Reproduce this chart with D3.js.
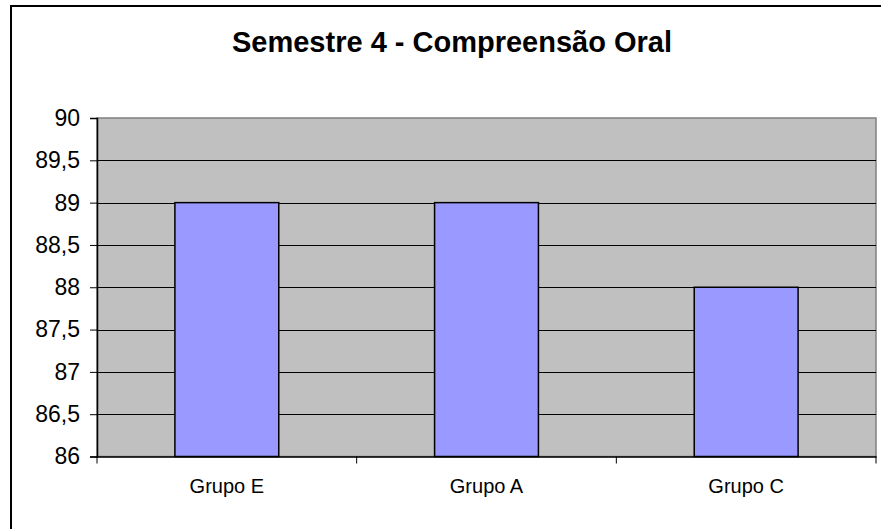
<!DOCTYPE html>
<html>
<head>
<meta charset="utf-8">
<script src="https://cdn.jsdelivr.net/npm/d3@7"></script>
<style>
  html, body { margin: 0; padding: 0; background: #fff; }
  svg { display: block; }
</style>
</head>
<body>
<svg id="chart" width="881" height="529"></svg>
<script>
const title = "Semestre 4 - Compreensão Oral";
const categories = ["Grupo E", "Grupo A", "Grupo C"];
const values = [89, 89, 88];
const yTicks = [86, 86.5, 87, 87.5, 88, 88.5, 89, 89.5, 90];
const yDomain = [86, 90];

const svg = d3.select("#chart");
const plot = { left: 97, top: 118, right: 876, bottom: 456.5 };

// outer frame (extends past the picture on right and bottom)
svg.append("rect")
  .attr("x", 11).attr("y", 6)
  .attr("width", 900).attr("height", 600)
  .attr("fill", "#fff").attr("stroke", "#000").attr("stroke-width", 2);

const x = d3.scaleBand().domain(categories).range([plot.left, plot.right]).paddingInner(0).paddingOuter(0);
const y = d3.scaleLinear().domain(yDomain).range([plot.bottom, plot.top]);

// plot background
svg.append("rect")
  .attr("x", plot.left).attr("y", plot.top)
  .attr("width", plot.right - plot.left).attr("height", plot.bottom - plot.top)
  .attr("fill", "#C0C0C0").attr("stroke", "#808080").attr("stroke-width", 1.5);

// gridlines
svg.append("g").selectAll("line").data(yTicks.filter(d => d !== yDomain[0] && d !== yDomain[1]))
  .join("line")
  .attr("x1", plot.left).attr("x2", plot.right)
  .attr("y1", d => Math.round(y(d)) + 0.5).attr("y2", d => Math.round(y(d)) + 0.5)
  .attr("stroke", "#000").attr("stroke-width", 1);

// bars
const barW = x.bandwidth() * 0.4;
svg.append("g").selectAll("rect").data(values)
  .join("rect")
  .attr("x", (d, i) => x(categories[i]) + (x.bandwidth() - barW) / 2)
  .attr("y", d => y(d))
  .attr("width", barW)
  .attr("height", d => y(yDomain[0]) - y(d))
  .attr("fill", "#9999FF").attr("stroke", "#000").attr("stroke-width", 1.5);

// y axis
const yAxis = svg.append("g")
  .attr("transform", `translate(${plot.left},0)`)
  .call(d3.axisLeft(y).tickValues(yTicks).tickSize(7).tickPadding(10)
    .tickFormat(d => String(d).replace(".", ",")));
yAxis.select(".domain").attr("stroke", "#000").attr("stroke-width", 1.5);
yAxis.selectAll(".tick line").attr("stroke", "#000");
yAxis.selectAll(".tick text")
  .attr("fill", "#000")
  .style("font-family", "Arial, 'Liberation Sans', sans-serif")
  .style("font-size", "23px");

// x axis
const xAxis = svg.append("g")
  .attr("transform", `translate(0,${plot.bottom})`)
  .call(d3.axisBottom(x).tickSize(0).tickPadding(22));
xAxis.select(".domain").attr("stroke", "#000").attr("stroke-width", 1.5);
xAxis.selectAll(".tick text")
  .attr("fill", "#000")
  .style("font-family", "Arial, 'Liberation Sans', sans-serif")
  .style("font-size", "20px");

// category boundary tick marks
const bounds = categories.map(c => x(c)).concat([x(categories[categories.length - 1]) + x.bandwidth()]);
svg.append("g").selectAll("line").data(bounds)
  .join("line")
  .attr("x1", d => d).attr("x2", d => d)
  .attr("y1", plot.bottom).attr("y2", plot.bottom + 7)
  .attr("stroke", "#000").attr("stroke-width", 1);

// title
svg.append("text")
  .attr("x", 452).attr("y", 51.5)
  .attr("text-anchor", "middle")
  .style("font-family", "Arial, 'Liberation Sans', sans-serif")
  .style("font-weight", "bold")
  .style("font-size", "29px")
  .text(title);
</script>
</body>
</html>
